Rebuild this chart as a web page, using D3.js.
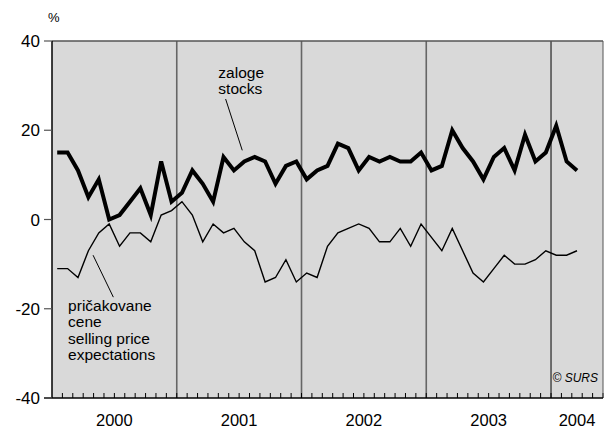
<!DOCTYPE html>
<html>
<head>
<meta charset="utf-8">
<script src="https://cdn.jsdelivr.net/npm/d3@7"></script>
<style>
  html, body { margin: 0; padding: 0; background: #fff; }
  svg { display: block; }
  text { font-family: "Liberation Sans", Arial, Helvetica, sans-serif; fill: #000; }
</style>
</head>
<body>
<svg id="chart" width="616" height="432"></svg>
<script>
// ---- data (monthly, Jan 2000 – Mar 2004) ----
const years = ["2000", "2001", "2002", "2003", "2004"];
const monthsShown = 53; // axis runs Jan 2000 – May 2004
const yTicks = [40, 20, 0, -20, -40];
const zaloge = [15, 15, 11, 5, 9, 0, 1, 4, 7, 1, 13, 4,
                6, 11, 8, 4, 14, 11, 13, 14, 13, 8, 12, 13,
                9, 11, 12, 17, 16, 11, 14, 13, 14, 13, 13, 15,
                11, 12, 20, 16, 13, 9, 14, 16, 11, 19, 13, 15,
                21, 13, 11];
const cene = [-11, -11, -13, -7, -3, -1, -6, -3, -3, -5, 1, 2,
              4, 1, -5, -1, -3, -2, -5, -7, -14, -13, -9, -14,
              -12, -13, -6, -3, -2, -1, -2, -5, -5, -2, -6, -1,
              -4, -7, -2, -7, -12, -14, -11, -8, -10, -10, -9, -7,
              -8, -8, -7];
const labelStocks = ["zaloge", "stocks"];
const labelPrices = ["pričakovane", "cene", "selling price", "expectations"];

// ---- layout ----
const L = 52, R = 603, T = 41, B = 398;
const svg = d3.select("#chart");
const x = d3.scaleLinear().domain([0, monthsShown]).range([L, R]);
const y = d3.scaleLinear().domain([-40, 40]).range([B, T]);

// background
svg.append("rect").attr("x", L).attr("y", T).attr("width", R - L).attr("height", B - T)
  .attr("fill", "#d9d9d9");

// year separators
years.slice(1).forEach((yr, k) => {
  const m = (k + 1) * 12;
  svg.append("line")
    .attr("x1", x(m)).attr("x2", x(m)).attr("y1", T).attr("y2", B)
    .attr("stroke", k === years.length - 2 ? "#000" : "#666")
    .attr("stroke-width", k === years.length - 2 ? 1 : 1.6);
});

// month ticks (inside, at bottom)
d3.range(1, monthsShown + 1).forEach(m => {
  svg.append("line")
    .attr("x1", x(m)).attr("x2", x(m)).attr("y1", B).attr("y2", B - 5)
    .attr("stroke", "#000").attr("stroke-width", 1);
});

// frame
svg.append("line").attr("x1", L).attr("x2", R).attr("y1", T).attr("y2", T)
  .attr("stroke", "#555").attr("stroke-width", 1.5);
svg.append("line").attr("x1", R).attr("x2", R).attr("y1", T).attr("y2", B)
  .attr("stroke", "#555").attr("stroke-width", 1);
svg.append("line").attr("x1", L).attr("x2", L).attr("y1", T).attr("y2", B)
  .attr("stroke", "#000").attr("stroke-width", 1.5);
svg.append("line").attr("x1", L - 8).attr("x2", R).attr("y1", B).attr("y2", B)
  .attr("stroke", "#000").attr("stroke-width", 1.5);

// y axis ticks + labels
yTicks.forEach(v => {
  svg.append("line").attr("x1", L - 8).attr("x2", L).attr("y1", y(v)).attr("y2", y(v))
    .attr("stroke", "#555").attr("stroke-width", 1.2);
  svg.append("text").attr("x", L - 12).attr("y", y(v) + 6)
    .attr("text-anchor", "end").attr("font-size", 17).text(v);
});
svg.append("text").attr("x", 48).attr("y", 22).attr("font-size", 13).text("%");

// year labels
years.forEach((yr, k) => {
  const a = k * 12, b = Math.min((k + 1) * 12, monthsShown);
  svg.append("text").attr("x", x((a + b) / 2)).attr("y", 426)
    .attr("text-anchor", "middle").attr("font-size", 16.5).text(yr);
});

// lines
const line = d3.line().x((d, i) => x(i + 0.5)).y(d => y(d));
svg.append("path").datum(cene).attr("d", line)
  .attr("fill", "none").attr("stroke", "#000").attr("stroke-width", 1.4)
  .attr("stroke-linejoin", "miter");
svg.append("path").datum(zaloge).attr("d", line)
  .attr("fill", "none").attr("stroke", "#000").attr("stroke-width", 4)
  .attr("stroke-linejoin", "miter");

// annotations
labelStocks.forEach((t, i) => {
  svg.append("text").attr("x", x(16)).attr("y", y(31.7) + i * 16)
    .attr("font-size", 15.5).text(t);
});
svg.append("line").attr("x1", x(16.7)).attr("x2", x(18.3)).attr("y1", y(27)).attr("y2", y(15.5))
  .attr("stroke", "#000").attr("stroke-width", 1);

labelPrices.forEach((t, i) => {
  svg.append("text").attr("x", x(1.55)).attr("y", y(-20.5) + i * 16.5)
    .attr("font-size", 15.5).text(t);
});
svg.append("line").attr("x1", x(3.95)).attr("x2", x(5.9)).attr("y1", y(-8)).attr("y2", y(-17.4))
  .attr("stroke", "#000").attr("stroke-width", 1);

// source
svg.append("text").attr("x", 598).attr("y", 382).attr("text-anchor", "end")
  .attr("font-size", 12).attr("font-style", "italic").text("© SURS");
</script>
</body>
</html>
